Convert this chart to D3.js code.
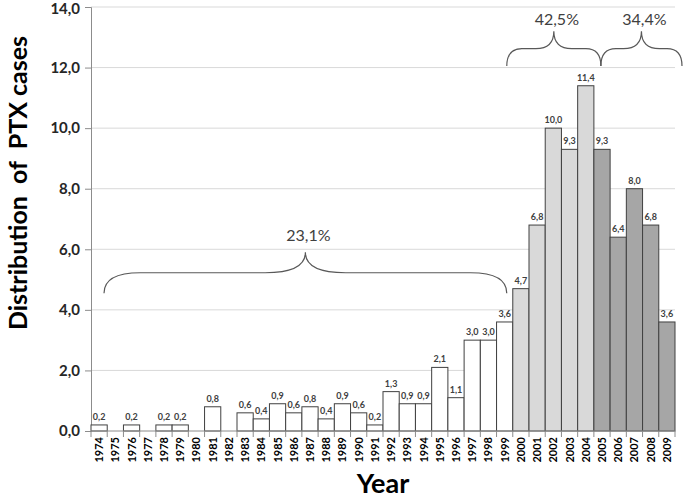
<!DOCTYPE html>
<html>
<head>
<meta charset="utf-8">
<script src="https://cdnjs.cloudflare.com/ajax/libs/d3/7.8.5/d3.min.js"></script>
<style>
  body { margin: 0; background: #fff; }
  svg { display: block; font-family: Lato, "Open Sans", sans-serif; }
</style>
</head>
<body>
<div id="chart"></div>
<script>

/*
 * PTX cases per year.
 */

// Years and distribution values.
var years = d3.range(1974, 2010).map(String);
var values = [
  0.2, 0, 0.2, 0, 0.2, 0.2, 0, 0.8, 0, 0.6, 0.4, 0.9, 0.6, 0.8, 0.4, 0.9,
  0.6, 0.2, 1.3, 0.9, 0.9, 2.1, 1.1, 3.0, 3.0, 3.6, 4.7, 6.8, 10.0, 9.3,
  11.4, 9.3, 6.4, 8.0, 6.8, 3.6
];

// Period of each year, for the fill.
var periods = years.map(function(yr) {
  if (+yr < 2000) return 0;
  if (+yr < 2005) return 1;
  return 2;
});
var periodFills = ['#ffffff', '#d9d9d9', '#a6a6a6'];

// Y ticks.
var yTicks = [0, 2, 4, 6, 8, 10, 12, 14];

// Braces: first year, last year, label, bottom value, tip value.
var braceFrom = ['1974', '2000', '2005'];
var braceTo = ['1999', '2004', '2009'];
var braceLabels = ['23,1%', '42,5%', '34,4%'];
var braceBottom = [4.55, 12.05, 12.05];
var braceTip = [5.9, 13.2, 13.2];

var W = 685, H = 500;
var plotLeft = 91, plotRight = 675, plotTop = 7, plotBottom = 431;

var svg = d3.select('#chart').append('svg')
  .attr('width', W)
  .attr('height', H);

// Scales.
var x = d3.scaleBand().domain(years).range([plotLeft, plotRight]).padding(0);
var y = d3.scaleLinear().domain([0, 14]).range([plotBottom, plotTop]);
var fmt = function(v) { return d3.format('.1f')(v).replace('.', ','); };

// Grid lines.
svg.append('g').selectAll('line')
  .data(yTicks.slice(1))
  .join('line')
  .attr('x1', plotLeft).attr('x2', plotRight)
  .attr('y1', function(d) { return y(d); })
  .attr('y2', function(d) { return y(d); })
  .attr('stroke', '#d9d9d9')
  .attr('stroke-width', 1);

// Y axis.
var yAxis = svg.append('g')
  .attr('transform', 'translate(' + plotLeft + ',0)')
  .call(d3.axisLeft(y).tickValues(yTicks).tickFormat(fmt).tickSize(6).tickPadding(5));
yAxis.select('.domain').attr('stroke', '#8c8c8c');
yAxis.selectAll('.tick line').attr('stroke', '#8c8c8c');
yAxis.selectAll('.tick text')
  .attr('fill', '#262626')
  .attr('y', function(d) { return d === 14 ? 2 : 0; })
  .style('font-family', 'Lato, "Open Sans", sans-serif')
  .style('font-size', '15px')
  .style('font-weight', 'bold');

// Bars.
svg.append('g').selectAll('rect')
  .data(values.map(function(v, i) { return { year: years[i], v: v, p: periods[i] }; })
    .filter(function(d) { return d.v > 0; }))
  .join('rect')
  .attr('x', function(d) { return x(d.year); })
  .attr('y', function(d) { return y(d.v); })
  .attr('width', x.bandwidth())
  .attr('height', function(d) { return y(0) - y(d.v); })
  .attr('fill', function(d) { return periodFills[d.p]; })
  .attr('stroke', '#404040')
  .attr('stroke-width', 1);

// Bar labels.
svg.append('g').selectAll('text')
  .data(values.map(function(v, i) { return { year: years[i], v: v }; })
    .filter(function(d) { return d.v > 0; }))
  .join('text')
  .attr('x', function(d) { return x(d.year) + x.bandwidth() / 2; })
  .attr('y', function(d) { return y(d.v) - 5; })
  .attr('text-anchor', 'middle')
  .attr('fill', '#404040')
  .style('font-size', '9px')
  .style('font-weight', 'bold')
  .text(function(d) { return fmt(d.v); });

// X axis line and ticks between bands.
svg.append('line')
  .attr('x1', plotLeft).attr('x2', plotRight)
  .attr('y1', plotBottom).attr('y2', plotBottom)
  .attr('stroke', '#8c8c8c');
svg.append('g').selectAll('line')
  .data(years.concat(['end']))
  .join('line')
  .attr('x1', function(d, i) { return plotLeft + i * x.bandwidth(); })
  .attr('x2', function(d, i) { return plotLeft + i * x.bandwidth(); })
  .attr('y1', plotBottom).attr('y2', plotBottom + 6)
  .attr('stroke', '#8c8c8c');

// Year labels, rotated.
svg.append('g').selectAll('text')
  .data(years)
  .join('text')
  .attr('transform', function(d) {
    return 'translate(' + (x(d) + x.bandwidth() / 2 + 4) + ',' + (plotBottom + 6) + ') rotate(-90)';
  })
  .attr('text-anchor', 'end')
  .attr('fill', '#000')
  .style('font-size', '11px')
  .style('font-weight', 'bold')
  .text(function(d) { return d; });

// Braces.
var bracePath = function(x1, x2, yb, yt) {
  var w = x2 - x1, mid = (x1 + x2) / 2;
  var ym = (yb + yt) / 2;
  var re = Math.max(w * 0.09, 15), rt = Math.max(w * 0.1, 18);
  return 'M' + x1 + ',' + yb +
    'Q' + x1 + ',' + ym + ' ' + (x1 + re) + ',' + ym +
    'L' + (mid - rt) + ',' + ym +
    'Q' + mid + ',' + ym + ' ' + mid + ',' + yt +
    'Q' + mid + ',' + ym + ' ' + (mid + rt) + ',' + ym +
    'L' + (x2 - re) + ',' + ym +
    'Q' + x2 + ',' + ym + ' ' + x2 + ',' + yb;
};

braceLabels.forEach(function(label, i) {
  var x1 = x(braceFrom[i]) + (i === 0 ? 13 : -6);
  var x2 = x(braceTo[i]) + x.bandwidth() + (i === 0 ? -6 : 7);
  if (i === 2) x1 = x(braceFrom[i]) + 7;
  svg.append('path')
    .attr('d', bracePath(x1, x2, y(braceBottom[i]), y(braceTip[i])))
    .attr('fill', 'none')
    .attr('stroke', '#595959')
    .attr('stroke-width', 1.2);
  svg.append('text')
    .attr('x', (x1 + x2) / 2 + 3)
    .attr('y', y(braceTip[i]) - (i === 0 ? 11 : 6))
    .attr('text-anchor', 'middle')
    .attr('fill', '#404040')
    .style('font-size', '16px')
    .text(label);
});

// Axis titles.
svg.append('text')
  .attr('transform', 'translate(27,' + ((plotTop + plotBottom) / 2 - 36) + ') rotate(-90)')
  .attr('text-anchor', 'middle')
  .attr('fill', '#000')
  .style('font-size', '25px')
  .style('font-weight', 'bold')
  .style('white-space', 'pre')
  .text('Distribution  of  PTX cases');

svg.append('text')
  .attr('x', (plotLeft + plotRight) / 2)
  .attr('y', 493)
  .attr('text-anchor', 'middle')
  .attr('fill', '#000')
  .style('font-size', '27px')
  .style('font-weight', 'bold')
  .text('Year');

</script>
</body>
</html>
